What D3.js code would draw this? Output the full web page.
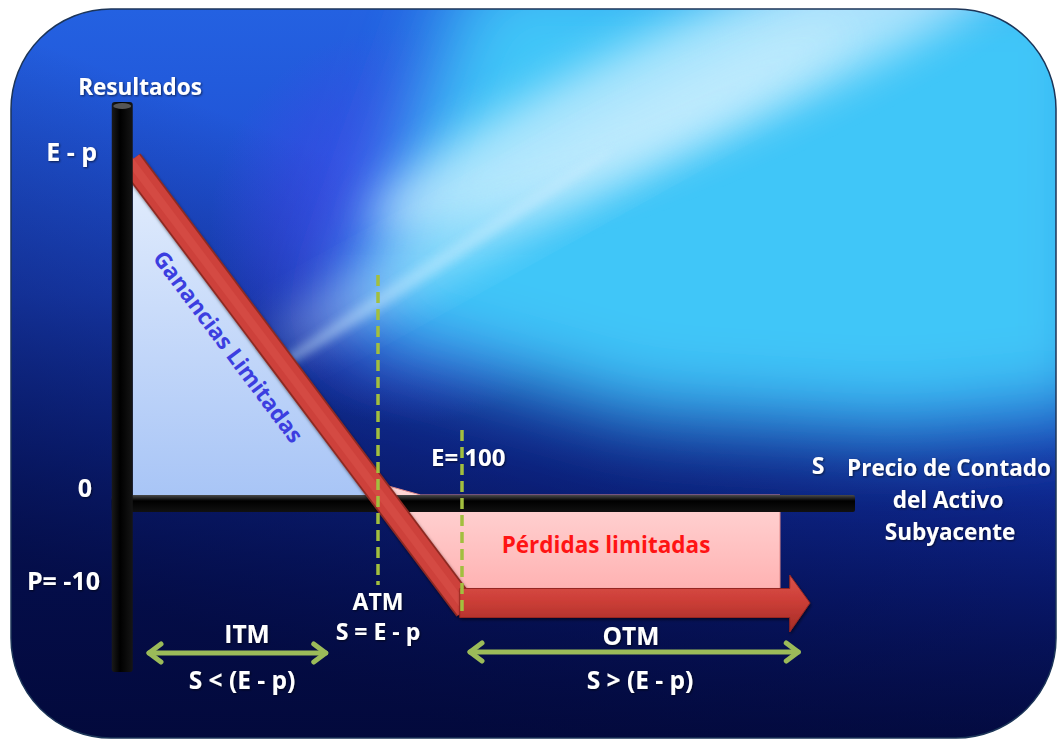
<!DOCTYPE html>
<html>
<head>
<meta charset="utf-8">
<script src="https://cdn.jsdelivr.net/npm/d3@7"></script>
<style>
  body { margin: 0; background: #fff; }
  text { font-family: "Open Sans", Lato, sans-serif; font-weight: bold; }
</style>
</head>
<body>
<div id="viz"></div>
<script>
// long put payoff
var spot = [56.1, 90, 100, 146.4];       // S along the payoff path
var payoff = [33.9, 0, -10, -10];        // result at each S
var gainS = [56.1, 90];                  // "Ganancias" area runs along the line
var lossS = [89.7, 94.5, 142.4];         // "Perdidas" area
var lossTop = [1.8, 0.8];
var guideS = [88.8, 100];                // ATM line, strike line
var guideTop = [22.8, 7.3];
var guideBottom = [-8.2, -11.2];
var yTickLabels = ['E - p', '0', 'P= -10'];
var yTickVals = [34, 0, -10];
var itmS = [58, 82.1];
var otmS = [100.8, 145.1];
var axisS = [53.3, 152.4];
var axisR = [40.1, -16.9];
var headS = 143.7;

var w = 1057, h = 739;

var x = d3.scaleLinear().domain([56, 150]).range([132, 837]);
var y = d3.scaleLinear().domain([0, -10]).range([503, 603]);

var svg = d3.select('#viz').append('svg')
            .attr('width', w)
            .attr('height', h);

var defs = svg.append('defs');

function lin(id, x1, y1, x2, y2, stops) {
  var g = defs.append('linearGradient').attr('id', id)
              .attr('x1', x1).attr('y1', y1).attr('x2', x2).attr('y2', y2);
  stops.forEach(function(s) {
    g.append('stop').attr('offset', s[0]).attr('stop-color', s[1]).attr('stop-opacity', s[2] == null ? 1 : s[2]);
  });
}
function rad(id, cx, cy, r, stops) {
  var g = defs.append('radialGradient').attr('id', id)
              .attr('gradientUnits', 'userSpaceOnUse')
              .attr('cx', cx).attr('cy', cy).attr('r', r);
  stops.forEach(function(s) {
    g.append('stop').attr('offset', s[0]).attr('stop-color', s[1]).attr('stop-opacity', s[2] == null ? 1 : s[2]);
  });
}

lin('bgV', 0, 0, 0, 1, [[0, '#2462e2'], [0.4, '#1d48cc'], [0.6, '#1232a8'], [0.8, '#0a1c78'], [1, '#050d48']]);
lin('bgL', 0, 0.75, 0.3, 0.2, [[0, '#020838', 0.75], [1, '#020838', 0]]);
rad('bgP', 410, 225, 200, [[0, '#4a44ee', 0.9], [1, '#4a44ee', 0]]);
lin('gain', 0, 0, 0, 1, [[0, '#e4eefd'], [1, '#a7c4f6']]);
lin('loss', 0, 0, 0, 1, [[0, '#ffd9d9'], [1, '#ffadad']]);
lin('arrowH', 0, 0, 0, 1, [[0, '#dc534b'], [0.45, '#cc3e37'], [1, '#a32c26']]);
lin('axV', 0, 0, 1, 0, [[0, '#1a1a1a'], [0.4, '#000'], [1, '#151515']]);
lin('axH', 0, 0, 0, 1, [[0, '#4a4a4a'], [0.35, '#000'], [1, '#111']]);

function blurF(id, sd) {
  defs.append('filter').attr('id', id)
      .attr('x', '-50%').attr('y', '-50%').attr('width', '200%').attr('height', '200%')
      .append('feGaussianBlur').attr('stdDeviation', sd);
}
blurF('blurBig', 40);
blurF('blur', 22);
blurF('blur2', 5);

var shadow = defs.append('filter').attr('id', 'shadow').attr('x', '-20%').attr('y', '-20%').attr('width', '140%').attr('height', '140%');
shadow.append('feDropShadow').attr('dx', 1).attr('dy', 2).attr('stdDeviation', 1.5).attr('flood-color', '#000').attr('flood-opacity', 0.5);

var tshadow = defs.append('filter').attr('id', 'tshadow');
tshadow.append('feDropShadow').attr('dx', 1).attr('dy', 1).attr('stdDeviation', 0.8).attr('flood-color', '#000').attr('flood-opacity', 0.6);

defs.append('clipPath').attr('id', 'card')
    .append('rect').attr('x', 11).attr('y', 9).attr('width', 1045).attr('height', 729).attr('rx', 100).attr('ry', 100);

// background card
var bg = svg.append('g').attr('clip-path', 'url(#card)');
bg.append('rect').attr('width', w).attr('height', h).attr('fill', 'url(#bgV)');
bg.append('rect').attr('width', w).attr('height', h).attr('fill', 'url(#bgL)');
bg.append('rect').attr('width', w).attr('height', h).attr('fill', 'url(#bgP)');
bg.append('path')
  .attr('d', 'M470,-40L1110,-40L1110,410L900,430L640,415L500,375L340,330Z')
  .attr('fill', '#40c6f8').attr('filter', 'url(#blurBig)');
bg.append('ellipse').attr('cx', 720).attr('cy', 70).attr('rx', 380).attr('ry', 60)
  .attr('transform', 'rotate(-24 720 70)')
  .attr('fill', '#e6f6ff').attr('opacity', 0.65).attr('filter', 'url(#blur)');
bg.append('ellipse').attr('cx', 560).attr('cy', 185).attr('rx', 330).attr('ry', 28)
  .attr('transform', 'rotate(-29 560 185)')
  .attr('fill', '#dff4ff').attr('opacity', 0.45).attr('filter', 'url(#blur)');
bg.append('ellipse').attr('cx', 430).attr('cy', 268).attr('rx', 220).attr('ry', 7)
  .attr('transform', 'rotate(-33 430 268)')
  .attr('fill', '#cfeeff').attr('opacity', 0.45).attr('filter', 'url(#blur2)');

svg.append('rect').attr('x', 11).attr('y', 9).attr('width', 1045).attr('height', 729)
   .attr('rx', 100).attr('ry', 100)
   .attr('fill', 'none').attr('stroke', '#1c3558').attr('stroke-width', 1.5);

var line = d3.line().x(d => x(d[0])).y(d => y(d[1]));
function pay(s) {
  // piecewise path from the read values
  var i = d3.bisectRight(spot, s) - 1;
  if (i < 0) i = 0;
  if (i >= spot.length - 1) i = spot.length - 2;
  var t = (s - spot[i]) / (spot[i + 1] - spot[i]);
  return payoff[i] + t * (payoff[i + 1] - payoff[i]);
}

// gains triangle
svg.append('path')
   .attr('d', line([[gainS[0], 0], [gainS[0], pay(gainS[0])], [gainS[1], 0]]) + 'Z')
   .attr('fill', 'url(#gain)');

// losses area
svg.append('path')
   .attr('d', line([[lossS[0], lossTop[0]], [lossS[1], lossTop[1]], [lossS[2], lossTop[1]],
                    [lossS[2], payoff[2]], [spot[2], payoff[2]], [spot[1], payoff[1]]]) + 'Z')
   .attr('fill', 'url(#loss)')
   .attr('stroke', '#e08a8a').attr('stroke-width', 1);

// horizontal axis
svg.append('rect')
   .attr('x', x(axisS[0])).attr('y', y(0) - 8)
   .attr('width', x(axisS[1]) - x(axisS[0])).attr('height', 17)
   .attr('rx', 2)
   .attr('fill', 'url(#axH)');

// payoff diagonal
var d0 = spot[0] - 0.3, d1 = spot[2] + 0.6;
var diag = [[d0, pay(d0)], [d1, payoff[1] - (d1 - spot[1])]];
svg.append('path').attr('d', line(diag))
   .attr('stroke', '#8e2a24').attr('stroke-width', 25).attr('fill', 'none')
   .attr('filter', 'url(#shadow)');
svg.append('path').attr('d', line(diag))
   .attr('stroke', '#cd413b').attr('stroke-width', 21.5).attr('fill', 'none');
svg.append('path').attr('d', line(diag))
   .attr('stroke', '#d44a43').attr('stroke-width', 8).attr('fill', 'none')
   .attr('transform', 'translate(-1.5,-1.5)');

// horizontal arrow
var xa0 = x(spot[2] - 0.3), xb = x(headS), xt = x(spot[3]), yc = y(payoff[3]);
svg.append('path')
   .attr('d', 'M' + xa0 + ',' + (yc - 14.5) + 'L' + xb + ',' + (yc - 14.5) + 'L' + xb + ',' + (yc - 28) +
              'L' + xt + ',' + yc + 'L' + xb + ',' + (yc + 29) + 'L' + xb + ',' + (yc + 14.5) +
              'L' + xa0 + ',' + (yc + 14.5) + 'Z')
   .attr('fill', 'url(#arrowH)')
   .attr('stroke', '#962720').attr('stroke-width', 1)
   .attr('filter', 'url(#shadow)');

// vertical axis
svg.append('rect')
   .attr('x', x(axisS[0])).attr('y', y(axisR[0]))
   .attr('width', 21).attr('height', y(axisR[1]) - y(axisR[0]))
   .attr('rx', 3)
   .attr('fill', 'url(#axV)');
svg.append('ellipse')
   .attr('cx', x(axisS[0]) + 10.5).attr('cy', y(axisR[0]) + 4)
   .attr('rx', 9).attr('ry', 3).attr('fill', '#555');

// dashed guides
svg.selectAll('.guide')
   .data(guideS)
   .enter()
   .append('line')
   .attr('class', 'guide')
   .attr('x1', d => x(d)).attr('x2', d => x(d))
   .attr('y1', (d, i) => y(guideTop[i]))
   .attr('y2', (d, i) => y(guideBottom[i]))
   .attr('stroke', '#a2bf3e').attr('stroke-width', 3.5)
   .attr('stroke-dasharray', '11,6');

// y labels
svg.selectAll('.ylab')
   .data(yTickLabels)
   .enter()
   .append('text')
   .attr('class', 'ylab')
   .attr('x', (d, i) => [97, 92, 100][i])
   .attr('y', (d, i) => y(yTickVals[i]) + [-2, -6, -13][i])
   .attr('text-anchor', 'end')
   .attr('fill', '#fff')
   .attr('font-size', 25)
   .attr('filter', 'url(#tshadow)')
   .text(d => d);

function label(txt, px, py, size, color, anchor) {
  return svg.append('text')
            .attr('x', px).attr('y', py)
            .attr('font-size', size)
            .attr('fill', color || '#fff')
            .attr('text-anchor', anchor || 'middle')
            .attr('filter', 'url(#tshadow)')
            .text(txt);
}

label('Resultados', 140, 95, 22.5);
label('E= 100', x(guideS[1]) - 31, 466, 24, '#fff', 'start');
label('S', 818, 474, 23);
label('Precio de Contado', 949, 476, 22.5);
label('del  Activo', 948, 508, 22.5);
label('Subyacente', 950, 540, 22.5);
label('ATM', x(guideS[0]), 610, 23);
label('S = E - p', x(guideS[0]), 640, 23);
label('ITM', 247, 643, 24.5);
label('S < (E - p)', 242, 689, 24.5);
label('OTM', 631, 645, 24.5);
label('S > (E - p)', 640, 689, 24.5);
label('Pérdidas limitadas', 606, 553, 22.5, '#ff1414').attr('filter', null);

var gx = (x(spot[0]) + x(spot[1])) / 2 - 38, gy = (y(pay(spot[0])) + y(0)) / 2 + 18;
var ang = Math.atan2(y(0) - y(pay(spot[0])), x(spot[1]) - x(spot[0])) * 180 / Math.PI;
svg.append('text')
   .attr('transform', 'translate(' + gx + ',' + gy + ') rotate(' + ang + ')')
   .attr('text-anchor', 'middle')
   .attr('font-size', 22.5)
   .attr('font-weight', 600)
   .attr('fill', '#3c3ee0')
   .text('Ganancias Limitadas');

// ITM / OTM double arrows
function dbl(s0, s1, py) {
  var a = x(s0), b = x(s1);
  var g = svg.append('g').attr('stroke', '#9bbb59').attr('stroke-width', 5)
             .attr('fill', 'none').attr('stroke-linecap', 'round').attr('stroke-linejoin', 'round');
  g.append('line').attr('x1', a + 2).attr('x2', b - 2).attr('y1', py).attr('y2', py);
  g.append('path').attr('d', 'M' + (a + 14) + ',' + (py - 9) + 'L' + (a + 2) + ',' + py + 'L' + (a + 14) + ',' + (py + 9));
  g.append('path').attr('d', 'M' + (b - 14) + ',' + (py - 9) + 'L' + (b - 2) + ',' + py + 'L' + (b - 14) + ',' + (py + 9));
}
dbl(itmS[0], itmS[1], 653);
dbl(otmS[0], otmS[1], 652);
</script>
</body>
</html>
